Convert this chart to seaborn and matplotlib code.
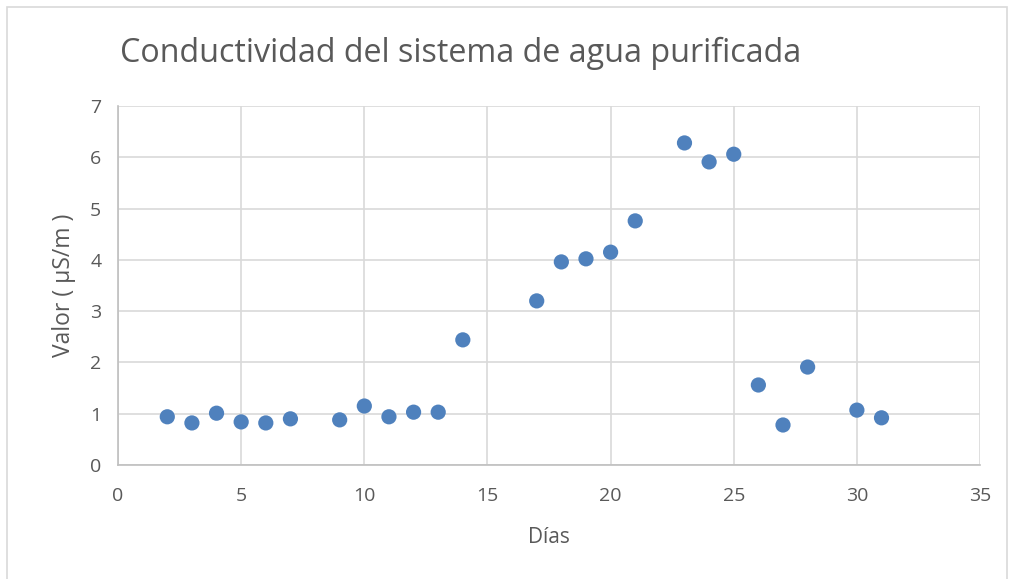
import matplotlib
matplotlib.use("Agg")
import matplotlib.pyplot as plt
import seaborn as sns
import pandas as pd
from matplotlib.patches import Rectangle

# Días y conductividad
dias = [2, 3, 4, 5, 6, 7, 9, 10, 11, 12, 13, 14, 17, 18, 19, 20, 21, 23, 24, 25, 26, 27, 28, 30, 31]
valor = [0.94, 0.82, 1.01, 0.84, 0.82, 0.90, 0.88, 1.15, 0.94, 1.03, 1.03, 2.44,
         3.20, 3.96, 4.02, 4.15, 4.76, 6.28, 5.91, 6.06, 1.56, 0.78, 1.91, 1.07, 0.92]
x_ticks = [0, 5, 10, 15, 20, 25, 30, 35]
y_ticks = [0, 1, 2, 3, 4, 5, 6, 7]

df = pd.DataFrame({"Días": dias, "Valor": valor})

sns.set_style("white")
plt.rcParams["font.family"] = ["Open Sans", "DejaVu Sans"]

fig = plt.figure(figsize=(10.14, 5.79), dpi=100)
ax = fig.add_axes([0.1164, 0.1969, 0.8501, 0.6200])

sns.scatterplot(data=df, x="Días", y="Valor", color="#4F81BD", s=120,
                edgecolor="none", ax=ax, zorder=3)

ax.set_xlim(0, 35)
ax.set_ylim(0, 7)
ax.set_xticks(x_ticks)
ax.set_yticks(y_ticks)
ax.grid(True, color="#D9D9D9", linewidth=1.2)
ax.set_axisbelow(True)
for side in ["top", "right"]:
    ax.spines[side].set_visible(False)
for side in ["left", "bottom"]:
    ax.spines[side].set_color("#BFBFBF")
    ax.spines[side].set_linewidth(1.2)
ax.tick_params(axis="x", length=0, labelsize=14, colors="#595959", pad=16)
ax.tick_params(axis="y", length=0, labelsize=14, colors="#595959", pad=12)

ax.set_xlabel("Días", fontsize=15, color="#595959", labelpad=16)
ax.set_ylabel("Valor ( µS/m )", fontsize=16.5, color="#595959", labelpad=10)
fig.text(0.118, 0.908, "Conductividad del sistema de agua purificada",
         fontsize=23.2, color="#595959", ha="left", va="center")

fig.patches.append(Rectangle((0.007, -0.01), 0.986, 0.998, transform=fig.transFigure,
                             fill=False, edgecolor="#D9D9D9", linewidth=1.2))

fig.savefig("out.png", dpi=100)
